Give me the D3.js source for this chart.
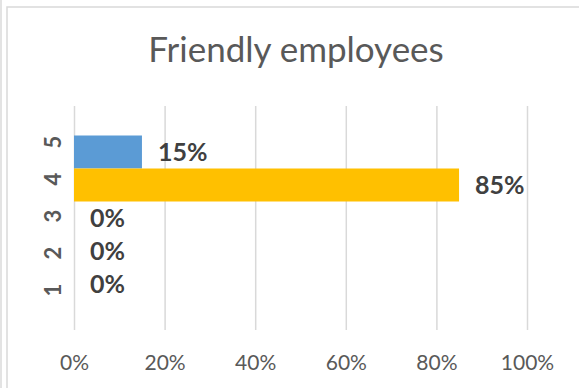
<!DOCTYPE html>
<html>
<head>
<meta charset="utf-8">
<script src="https://cdn.jsdelivr.net/npm/d3@7/dist/d3.min.js"></script>
<style>
  html, body { margin: 0; padding: 0; background: #ffffff; }
  svg { display: block; }
  text { font-family: Lato, "Open Sans", sans-serif; }
</style>
</head>
<body>
<svg id="chart" width="579" height="388"></svg>
<script>
// Ratings shown top to bottom, share of answers, bar fills
const ratings = ["5", "4", "3", "2", "1"];
const shares = [0.15, 0.85, 0, 0, 0];
const fills = ["#5b9bd5", "#ffc000", "#a5a5a5", "#ed7d31", "#4472c4"];
const xTicks = [0, 0.2, 0.4, 0.6, 0.8, 1.0];
const title = "Friendly employees";

const svg = d3.select("#chart");
const W = 579, H = 388;
const plot = { left: 74, right: 527, top: 106, bottom: 330 };

// chart frame
svg.append("rect").attr("x", 0).attr("y", 0).attr("width", W).attr("height", H).attr("fill", "#fff");
svg.append("line").attr("x1", 1).attr("x2", 1).attr("y1", 0).attr("y2", H)
  .attr("stroke", "#e3e3e3").attr("stroke-width", 2);
svg.append("rect").attr("x", 7).attr("y", 7).attr("width", W + 20).attr("height", H + 20)
  .attr("fill", "none").attr("stroke", "#d9d9d9").attr("stroke-width", 1.5);

const x = d3.scaleLinear().domain([0, 1]).range([plot.left, plot.right]);
const y = d3.scaleBand().domain(ratings).range([plot.top, plot.bottom])
  .paddingInner(0).paddingOuter(0.894);
const yLabel = d3.scalePoint().domain(ratings).range([142, 290]);

// title
svg.append("text")
  .attr("x", 296).attr("y", 62)
  .attr("text-anchor", "middle")
  .attr("fill", "#595959")
  .style("font-size", "35px")
  .text(title);

// x axis with vertical gridlines
const xAxis = svg.append("g")
  .attr("transform", `translate(0,${plot.bottom})`)
  .call(d3.axisBottom(x).tickValues(xTicks).tickFormat(d3.format(".0%"))
    .tickSizeInner(-(plot.bottom - plot.top)).tickSizeOuter(0).tickPadding(25));
xAxis.select(".domain").remove();
xAxis.selectAll(".tick line").attr("stroke", "#d9d9d9").attr("stroke-width", 1.5);
xAxis.selectAll(".tick text")
  .attr("fill", "#595959")
  .style("font-size", "21px")
  .style("font-family", "Lato, sans-serif");

// bars
svg.append("g").selectAll("rect")
  .data(ratings)
  .join("rect")
  .attr("x", x(0))
  .attr("y", (d) => y(d))
  .attr("width", (d, i) => x(shares[i]) - x(0))
  .attr("height", y.bandwidth())
  .attr("fill", (d, i) => fills[i]);

// value labels
const pct = d3.format(".0%");
svg.append("g").selectAll("text")
  .data(ratings)
  .join("text")
  .attr("x", (d, i) => x(shares[i]) + 16)
  .attr("y", (d) => y(d) + y.bandwidth() / 2)
  .attr("dy", "0.36em")
  .attr("fill", "#404040")
  .style("font-size", "25px")
  .style("font-weight", "bold")
  .text((d, i) => pct(shares[i]));

// rotated rating labels
svg.append("g").selectAll("text")
  .data(ratings)
  .join("text")
  .attr("transform", (d) => `translate(61,${yLabel(d)}) rotate(-90)`)
  .attr("text-anchor", "middle")
  .attr("fill", "#595959")
  .style("font-size", "22px")
  .style("font-weight", "bold")
  .text((d) => d);
</script>
</body>
</html>
